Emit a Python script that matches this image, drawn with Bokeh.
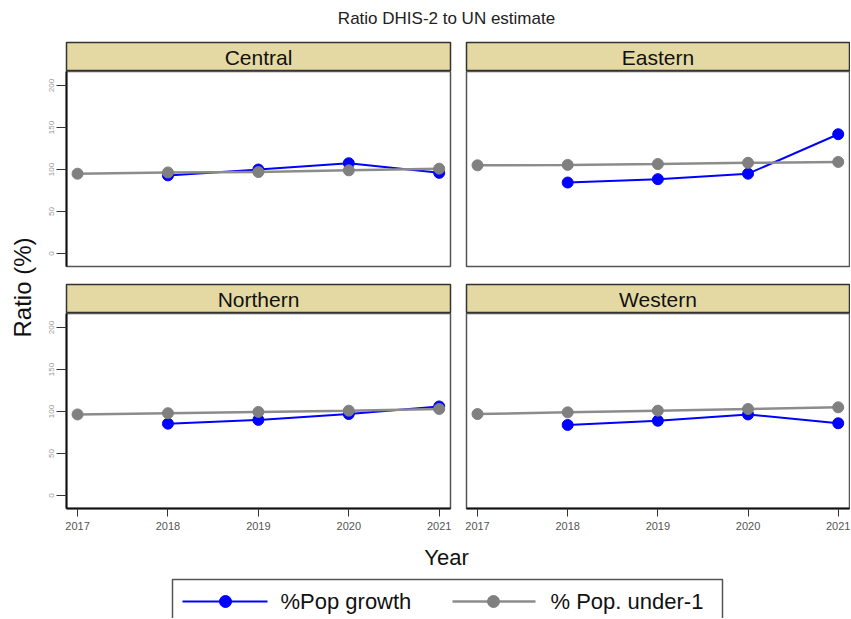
import math
from bokeh.plotting import figure
from bokeh.layouts import column, row
from bokeh.models import Range1d, FixedTicker
from bokeh.core.properties import value
from bokeh.embed import file_html
from bokeh.resources import INLINE

# ---------------- data ----------------
years = [2017, 2018, 2019, 2020, 2021]
growth_years = [2018, 2019, 2020, 2021]

central_growth = [93, 100, 107.5, 96]
eastern_growth = [84.5, 88.5, 95, 142]
northern_growth = [85.5, 90, 97, 106]
western_growth = [84, 89, 96.5, 86]

central_under1 = [95, 96.5, 97, 99, 101]
eastern_under1 = [105, 105.5, 106.5, 108, 109]
northern_under1 = [96.5, 98, 99.5, 101, 103]
western_under1 = [97, 99, 101, 103, 105]

y_ticks = [0, 50, 100, 150, 200]
series_labels = ["%Pop growth", "% Pop. under-1"]
title_text = "Ratio DHIS-2 to UN estimate"

# ---------------- style ----------------
FONT = "Liberation Sans"
BLUE = "#0000FF"
GRAY_M = "#808080"
GRAY_L = "#8C8C8C"
TAN = "#E5D9A3"
W = 850
YL_W = 40
TITLE_H = 41
STRIP_H = 30
FRAME_H = 195
GAP = 17
XAX_H = 30
BOTTOM_H = 80


def bare(p):
    p.grid.visible = False


def panel(name, grow, under, left, bottom):
    mbl = (66 - YL_W) if left else 8
    frame_w = 384 if left else 383
    mbr = 8 if left else 1
    w = mbl + frame_w + mbr

    strip = figure(width=w, height=STRIP_H, x_range=Range1d(0, 1), y_range=Range1d(0, 1),
                   x_axis_type=None, y_axis_type=None, output_backend="svg",
                   toolbar_location=None, min_border_left=mbl, min_border_right=mbr,
                   min_border_top=1, min_border_bottom=0)
    bare(strip)
    strip.background_fill_color = TAN
    strip.border_fill_color = "white"
    strip.outline_line_color = "#333333"
    strip.outline_line_width = 1.5
    strip.text(x=[0.5], y=[0.5], text=[name], text_font=value(FONT), text_font_size="21px",
               text_align="center", text_baseline="middle", text_color="#111111")

    mbb = XAX_H if bottom else GAP
    p = figure(width=w, height=FRAME_H + mbb,
               x_range=Range1d(2016.878, 2021.125), y_range=Range1d(-15.5, 216.7),
               x_axis_location="below" if bottom else None,
               y_axis_location="left" if left else None,
               output_backend="svg", toolbar_location=None,
               min_border_left=mbl, min_border_right=mbr,
               min_border_top=0, min_border_bottom=mbb)
    bare(p)
    p.outline_line_color = "#555555"
    p.outline_line_width = 1.5
    if left:
        ya = p.yaxis[0]
        ya.ticker = FixedTicker(ticks=y_ticks)
        ya.major_label_orientation = "vertical"
        ya.major_label_text_font = FONT
        ya.major_label_text_font_size = "8px"
        ya.major_label_text_color = "#999999"
        ya.major_tick_out = 10
        ya.major_tick_in = 0
        ya.minor_tick_line_color = None
        ya.major_label_standoff = 2
        ya.axis_line_width = 2
        ya.axis_line_color = "#111111"
        ya.major_tick_line_color = "#333333"
    if bottom:
        xa = p.xaxis[0]
        xa.ticker = FixedTicker(ticks=years)
        xa.major_label_text_font = FONT
        xa.major_label_text_font_size = "11px"
        xa.major_label_text_color = "#555555"
        xa.major_tick_out = 8
        xa.major_tick_in = 0
        xa.minor_tick_line_color = None
        xa.major_label_standoff = 5
        xa.axis_line_width = 2
        xa.axis_line_color = "#111111"
        xa.major_tick_line_color = "#333333"

    p.line(growth_years, grow, line_color=BLUE, line_width=2)
    p.scatter(growth_years, grow, size=11, fill_color=BLUE, line_color=BLUE)
    p.line(years, under, line_color=GRAY_L, line_width=2.5)
    p.scatter(years, under, size=11, fill_color=GRAY_M, line_color=GRAY_M)
    return column(strip, p, spacing=0)


# title
tf = figure(width=W, height=TITLE_H, x_range=Range1d(0, W), y_range=Range1d(TITLE_H, 0),
            x_axis_type=None, y_axis_type=None, output_backend="svg",
            toolbar_location=None, min_border=0)
bare(tf)
tf.outline_line_color = None
tf.text(x=[446], y=[18], text=[title_text], text_font=value(FONT), text_font_size="17px",
        text_align="center", text_baseline="middle", text_color="#222222")

# y label
MID_H = STRIP_H + FRAME_H + GAP + STRIP_H + FRAME_H + XAX_H
yf = figure(width=YL_W, height=MID_H, x_range=Range1d(0, YL_W), y_range=Range1d(MID_H, 0),
            x_axis_type=None, y_axis_type=None, output_backend="svg",
            toolbar_location=None, min_border=0)
bare(yf)
yf.outline_line_color = None
yf.text(x=[22], y=[287 - TITLE_H], text=["Ratio (%)"], angle=math.pi / 2,
        text_font=value(FONT), text_font_size="24px", text_align="center",
        text_baseline="middle", text_color="#111111")

left_col = column(panel("Central", central_growth, central_under1, True, False),
                  panel("Northern", northern_growth, northern_under1, True, True), spacing=0)
right_col = column(panel("Eastern", eastern_growth, eastern_under1, False, False),
                   panel("Western", western_growth, western_under1, False, True), spacing=0)
mid = row(yf, left_col, right_col, spacing=0)

# bottom: x label + legend (y downward)
bf = figure(width=W, height=BOTTOM_H, x_range=Range1d(0, W), y_range=Range1d(BOTTOM_H, 0),
            x_axis_type=None, y_axis_type=None, output_backend="svg",
            toolbar_location=None, min_border=0)
bare(bf)
bf.outline_line_color = None
bf.text(x=[446], y=[19], text=["Year"], text_font=value(FONT), text_font_size="22px",
        text_align="center", text_baseline="middle", text_color="#111111")

# legend box
bf.quad(left=[172], right=[722], top=[41], bottom=[BOTTOM_H + 20], fill_color="white",
        line_color="#555555", line_width=1.5)
LY = 63
bf.segment(x0=[182], x1=[267], y0=[LY], y1=[LY], line_color=BLUE, line_width=2)
bf.scatter(x=[225], y=[LY], size=12, fill_color=BLUE, line_color=BLUE)
bf.text(x=[280], y=[LY], text=[series_labels[0]], text_font=value(FONT),
        text_font_size="22px", text_align="left", text_baseline="middle",
        text_color="#111111")
bf.segment(x0=[452], x1=[535], y0=[LY], y1=[LY], line_color=GRAY_L, line_width=2.5)
bf.scatter(x=[493], y=[LY], size=12, fill_color=GRAY_M, line_color=GRAY_M)
bf.text(x=[550], y=[LY], text=[series_labels[1]], text_font=value(FONT),
        text_font_size="22px", text_align="left", text_baseline="middle",
        text_color="#111111")

page = column(tf, mid, bf, spacing=0)
open("out.html", "w").write(file_html(page, INLINE))
